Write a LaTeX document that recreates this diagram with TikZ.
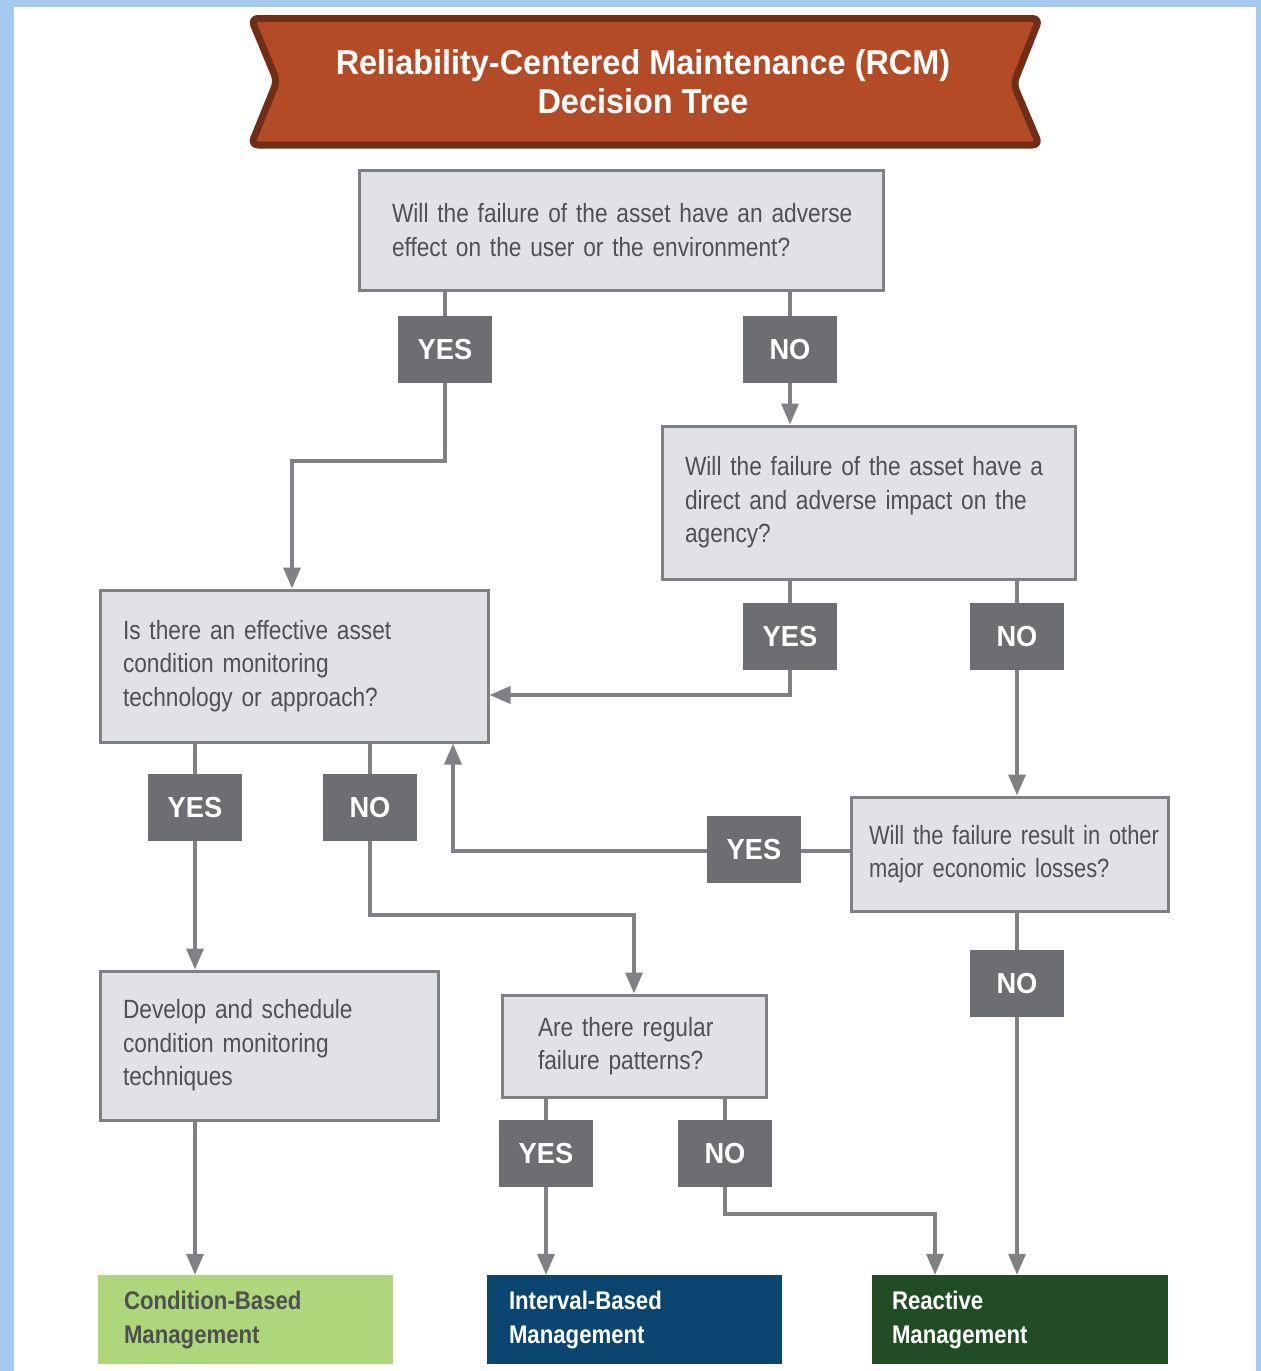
\documentclass[tikz,border=0pt]{standalone}
\usepackage{fontspec}
\setmainfont{Liberation Sans}
\newfontfamily\narrowsans[FakeStretch=0.86]{Liberation Sans}
\newfontfamily\tightsans[FakeStretch=0.83]{Liberation Sans}
\newfontfamily\labelsans[FakeStretch=0.94]{Liberation Sans}
\newfontfamily\outsans[FakeStretch=0.87,WordSpace=0.85]{Liberation Sans}
\usetikzlibrary{arrows.meta}

\definecolor{pagebg}{HTML}{A3C9EC}
\definecolor{bannerfill}{HTML}{B24B26}
\definecolor{bannerline}{HTML}{722E14}
\definecolor{boxfill}{HTML}{E1E2E6}
\definecolor{boxline}{HTML}{7F8083}
\definecolor{qtextcol}{HTML}{4F5052}
\definecolor{tagfill}{HTML}{6D6E71}
\definecolor{linecol}{HTML}{808184}
\definecolor{cbmfill}{HTML}{AED67B}
\definecolor{ibmfill}{HTML}{0B4670}
\definecolor{rmfill}{HTML}{214C24}

\newcommand\qfont{\narrowsans\fontsize{26.4}{33.5}\selectfont\spaceskip=0.21em\relax}
\newcommand\qtightfont{\tightsans\fontsize{26.4}{33.5}\selectfont\spaceskip=0.21em\relax}
\newcommand\tagfont{\labelsans\bfseries\fontsize{29}{30}\selectfont}
\newcommand\outfont{\outsans\bfseries\fontsize{25.5}{34}\selectfont}
\newcommand\titlefont{\labelsans\bfseries\fontsize{34.5}{39}\selectfont}
% one unbreakable text line, indented from the left edge of its box
\newlength\padlen
\newcommand\bxline[1]{\hspace*{\padlen}\mbox{#1}}

\begin{document}
\begin{tikzpicture}[x=1pt,y=-1pt,
  pad/.code={\setlength\padlen{#1}},
  qbox/.style={draw=boxline, line width=3pt, fill=boxfill, font=\qfont,
    text=qtextcol, align=left, inner sep=0pt},
  tag/.style={fill=tagfill, text=white, font=\tagfont, minimum width=94pt,
    minimum height=67pt, inner sep=0pt},
  outbox/.style={minimum height=89pt, inner sep=0pt, font=\outfont, align=left},
  conn/.style={draw=linecol, line width=3.5pt},
  arr/.style={conn, -{Triangle[width=17pt,length=21pt]}}
]
% page frame
\useasboundingbox (0,0) rectangle (1261,1371);
\fill[pagebg] (0,0) rectangle (1261,1371);
\fill[white] (14,7) rectangle (1256,1371);

% title banner
\draw[bannerline, fill=bannerfill, line width=7pt, rounded corners=7pt, line join=round]
  (251,18.5) -- (1039.5,18.5) -- (1013.5,84) -- (1039.5,145) -- (251,145) -- (277,81) -- cycle;
\node[text=white, font=\titlefont, align=center] (title) at (643,82)
  {Reliability-Centered Maintenance (RCM)\\Decision Tree};

% question boxes
\node[qbox, pad=33pt, text width=524pt, minimum height=120pt] (q1) at (621,230)
  {\bxline{Will the failure of the asset have an adverse}\\\bxline{effect on the user or the environment?}};
\node[qbox, pad=23pt, text width=413pt, minimum height=153pt] (q2) at (868.5,502.5)
  {\bxline{Will the failure of the asset have a}\\\bxline{direct and adverse impact on the}\\\bxline{agency?}};
\node[qbox, pad=23pt, text width=388pt, minimum height=152pt] (q3) at (294,666)
  {\bxline{Is there an effective asset}\\\bxline{condition monitoring}\\\bxline{technology or approach?}};
\node[qbox, font=\qtightfont, pad=18pt, text width=317pt, minimum height=114pt] (q4) at (1009.5,854)
  {\bxline{Will the failure result in other}\\\bxline{major economic losses?}};
\node[qbox, pad=23pt, text width=338pt, minimum height=149pt] (q5) at (269,1045.5)
  {\bxline{Develop and schedule}\\\bxline{condition monitoring}\\\bxline{techniques}};
\node[qbox, pad=36pt, text width=264pt, minimum height=102pt] (q6) at (634,1046)
  {\bxline{Are there regular}\\\bxline{failure patterns?}};

% outcome boxes
\node[outbox, pad=26pt, fill=cbmfill, text=qtextcol, text width=295pt] (cbm) at (245.5,1319.5)
  {\bxline{Condition-Based}\\\bxline{Management}};
\node[outbox, pad=22pt, fill=ibmfill, text=white, text width=295pt] (ibm) at (634.5,1319.5)
  {\bxline{Interval-Based}\\\bxline{Management}};
\node[outbox, pad=20pt, fill=rmfill, text=white, text width=296pt] (rm) at (1020,1319.5)
  {\bxline{Reactive}\\\bxline{Management}};

% answer tags
\node[tag] (y1) at (445,349.5) {YES};
\node[tag] (n1) at (790,349.5) {NO};
\node[tag] (y2) at (790,636.5) {YES};
\node[tag] (n2) at (1017,636.5) {NO};
\node[tag] (y3) at (195,807.5) {YES};
\node[tag] (n3) at (370,807.5) {NO};
\node[tag] (y4) at (754,849.5) {YES};
\node[tag] (n4) at (1017,983.5) {NO};
\node[tag] (y6) at (546,1153.5) {YES};
\node[tag] (n6) at (725,1153.5) {NO};

% connectors
\draw[conn] (q1.south -| y1) -- (y1.north);
\draw[conn] (q1.south -| n1) -- (n1.north);
\draw[arr] (y1.south) -- (445,461) -| (q3.north -| 292,0);
\draw[arr] (n1.south) -- (q2.north -| n1);

\draw[conn] (q2.south -| y2) -- (y2.north);
\draw[conn] (q2.south -| n2) -- (n2.north);
\draw[arr] (y2.south) |- (q3.east |- 0,695);
\draw[arr] (n2.south) -- (q4.north -| n2);

\draw[conn] (q3.south -| y3) -- (y3.north);
\draw[conn] (q3.south -| n3) -- (n3.north);
\draw[arr] (y3.south) -- (q5.north -| y3);
\draw[arr] (n3.south) |- (634,915) -- (q6.north);

\draw[conn] (q4.west |- 0,851) -- (y4.east |- 0,851);
\draw[arr] (y4.west |- 0,851) -| (q3.south -| 453,0);
\draw[conn] (q4.south -| n4) -- (n4.north);
\draw[arr] (n4.south) -- (rm.north -| n4);

\draw[arr] (q5.south -| y3) -- (cbm.north -| y3);

\draw[conn] (q6.south -| y6) -- (y6.north);
\draw[conn] (q6.south -| n6) -- (n6.north);
\draw[arr] (y6.south) -- (ibm.north -| y6);
\draw[arr] (n6.south) |- (935,1214) -- (rm.north -| 935,0);
\end{tikzpicture}
\end{document}
